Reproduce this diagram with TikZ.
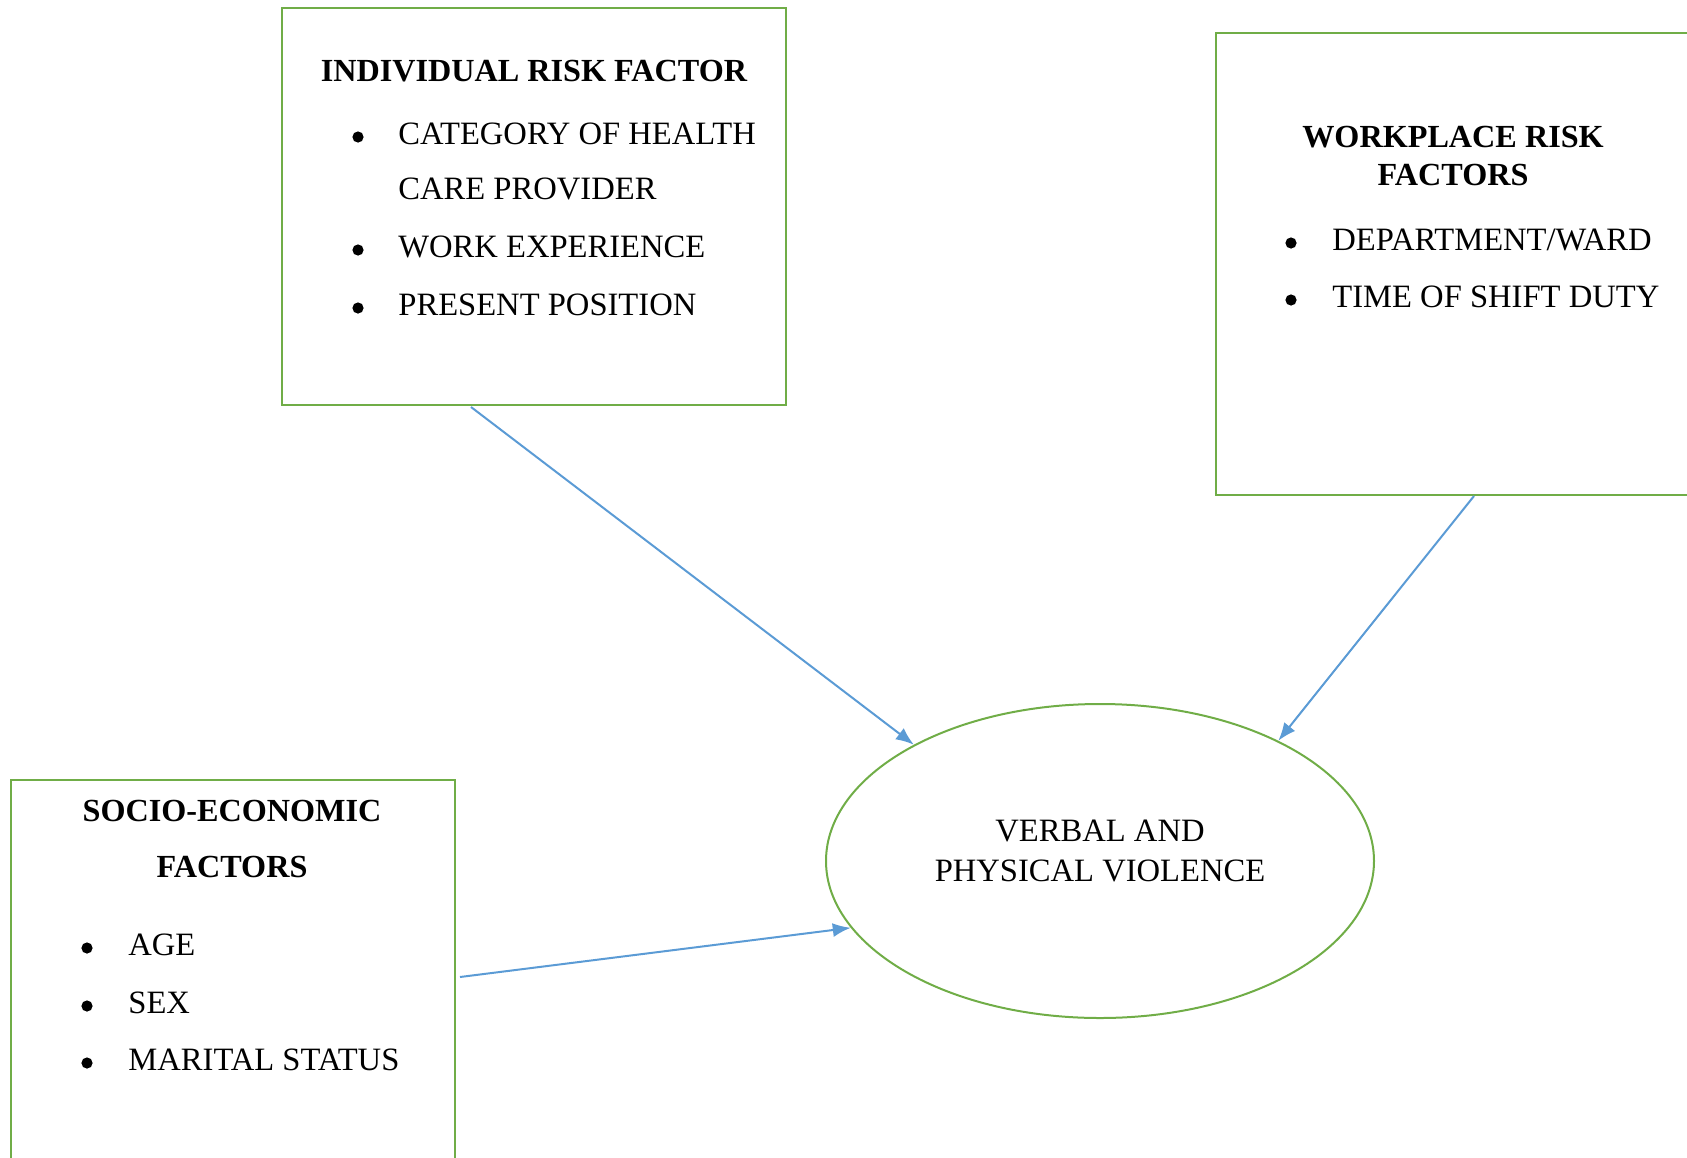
\documentclass[tikz,border=0pt]{standalone}
\usepackage{fontspec}
\setmainfont{Liberation Serif}
\usetikzlibrary{shapes.geometric, arrows.meta}
\definecolor{boxgreen}{RGB}{112,173,71}
\definecolor{arrowblue}{RGB}{91,155,213}

\begin{document}
\begin{tikzpicture}[x=0.5pt, y=-0.5pt, font=\fontsize{16.3}{19}\selectfont,
  factorbox/.style={draw=boxgreen, line width=1pt, inner sep=0pt},
  title/.style={anchor=base, inner sep=0pt, font=\fontsize{16.1}{19}\selectfont\bfseries},
  bul/.style={circle, fill=black, inner sep=0pt, minimum size=5.6pt},
  item/.style={anchor=base west, inner sep=0pt},
  link/.style={draw=arrowblue, line width=1pt, -{Latex[length=9pt, width=7pt]}}]
  \useasboundingbox (0,0) rectangle (1687,1157);
  \clip (0,0) rectangle (1687,1157);

  % the three groups of factors
  \node[factorbox, minimum width=252pt, minimum height=198.5pt] (indiv) at (534,206.5) {};
  \node[factorbox, minimum width=242pt, minimum height=231pt] (work) at (1458,264) {};
  \node[factorbox, minimum width=222pt, minimum height=195pt] (socio) at (233,975) {};

  % outcome
  \node[draw=boxgreen, line width=1pt, ellipse, inner sep=0pt,
        minimum width=274pt, minimum height=157pt] (viol) at (1100,861) {};
  \node[anchor=base, inner sep=0pt] (violA) at (1100,841) {VERBAL AND};
  \node[anchor=base, inner sep=0pt] (violB) at (1100,881) {PHYSICAL VIOLENCE};

  % individual risk factor
  \node[title] (indivT) at (534,81) {INDIVIDUAL RISK FACTOR};
  \node[bul] (indivB1) at (358,137) {};
  \node[item] (indivI1) at (398,144) {CATEGORY OF HEALTH};
  \node[item] (indivI1b) at (398,199) {CARE PROVIDER};
  \node[bul] (indivB2) at (358,250) {};
  \node[item] (indivI2) at (398,257) {WORK EXPERIENCE};
  \node[bul] (indivB3) at (358,308) {};
  \node[item] (indivI3) at (398,315) {PRESENT POSITION};

  % workplace risk factors
  \node[title] (workT1) at (1453,147) {WORKPLACE RISK};
  \node[title] (workT2) at (1453,185) {FACTORS};
  \node[bul] (workB1) at (1291,243) {};
  \node[item] (workI1) at (1332,250) {DEPARTMENT/WARD};
  \node[bul] (workB2) at (1291,300) {};
  \node[item] (workI2) at (1332,307) {TIME OF SHIFT DUTY};

  % socio-economic factors
  \node[title] (socioT1) at (232,821) {SOCIO-ECONOMIC};
  \node[title] (socioT2) at (232,877) {FACTORS};
  \node[bul] (socioB1) at (87,948) {};
  \node[item] (socioI1) at (128,955) {AGE};
  \node[bul] (socioB2) at (87,1006) {};
  \node[item] (socioI2) at (128,1013) {SEX};
  \node[bul] (socioB3) at (87,1063) {};
  \node[item] (socioI3) at (128,1070) {MARITAL STATUS};

  % arrows into the outcome
  \coordinate (indivOut) at (471,407);
  \coordinate (workOut) at (1474,496);
  \coordinate (socioOut) at (460,977);
  \draw[link] (indivOut) -- (viol.148);
  \draw[link] (workOut) -- (viol.34);
  \draw[link] (socioOut) -- (viol.195);
\end{tikzpicture}
\end{document}
